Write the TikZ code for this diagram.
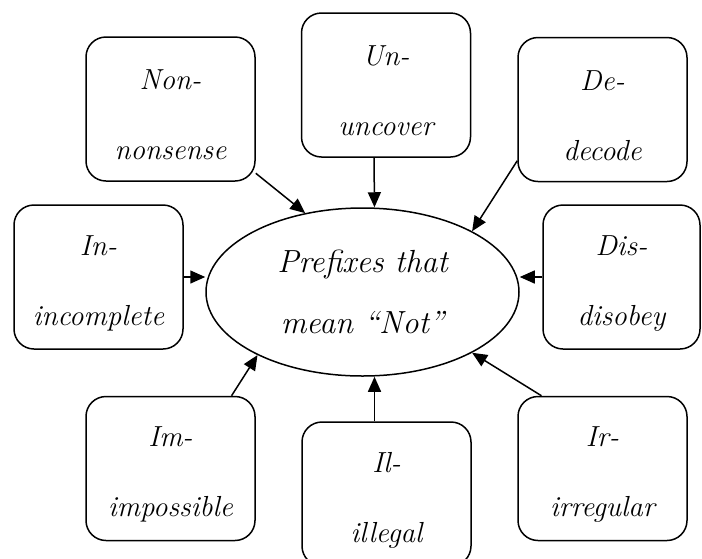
\documentclass[tikz,border=0pt]{standalone}
\usetikzlibrary{arrows.meta,shapes.geometric}

\begin{document}
\begin{tikzpicture}[x=1pt,y=-1pt,
        prefixbox/.style={draw, line width=1.5pt, rounded corners=20pt,%
            minimum height=144pt, inner sep=0pt, align=center,%
            font=\itshape\fontsize{29}{70}\selectfont},%
        centre/.style={draw, ellipse, line width=1.5pt, inner sep=0pt,%
            minimum width=313pt, minimum height=168pt, align=center,%
            font=\itshape\fontsize{32}{61}\selectfont},%
        arr/.style={line width=1.5pt, -{Triangle[length=15pt,width=13pt]}}%
    ]
        \useasboundingbox (0,0) rectangle (702,558);%

        %
        % Centre
        %
        \node[centre] (ell) at (362.5,292) {Prefixes that\\mean “Not”};%

        %
        % Prefixes
        %
        \foreach \n/\x/\y/\w/\p/\e in {%
            non/170.5/109/169/Non-/nonsense,%
            un/386/85/169/Un-/uncover,%
            de/602.5/109.5/169/De-/decode,%
            in/98.5/277/169/In-/incomplete,%
            dis/621.5/277/157/Dis-/disobey,%
            im/170.5/468.5/169/Im-/impossible,%
            il/386.5/494/169/Il-/illegal,%
            ir/602.5/468.5/169/Ir-/irregular} {%
            \node[prefixbox, minimum width=\w pt] (\n) at (\x,\y) {\rule{0pt}{32pt}\p\\\e};%
        }%

        %
        % Arrows
        %
        % Slanted ones
        \foreach \s/\t in {non.-37/ell.126, de.211/ell.29, im.50/ell.211, ir.130/ell.-29} {%
            \draw[arr] (\s) -- (\t);%
        }%
        % Straight ones
        \draw[arr] ([xshift=-12pt]un.south) -- ([xshift=12pt]ell.north);%
        \draw[arr] ([xshift=-12pt]il.north) -- ([xshift=12pt]ell.south);%
        \draw[arr] (in.east) -- (ell.west |- in.east);%
        \draw[arr] (dis.west) -- (ell.east |- dis.west);%
    \end{tikzpicture}
\end{document}
